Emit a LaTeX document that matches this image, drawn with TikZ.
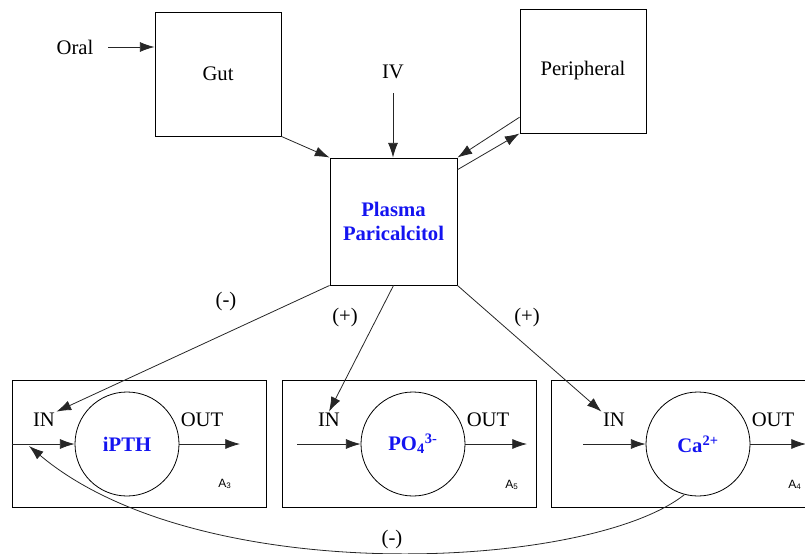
\documentclass[tikz,border=0pt]{standalone}
\usepackage{fontspec}
\setmainfont{Liberation Serif}
\newfontfamily\labelsans{Liberation Sans}
\usetikzlibrary{arrows.meta,calc}

\definecolor{poolblue}{RGB}{20,20,240}

\tikzset{
  every node/.style={font=\fontsize{15.5}{18}\selectfont, inner sep=1pt},
  box/.style={draw, line width=0.7pt, minimum width=94.5pt, minimum height=93pt},
  poolbox/.style={draw, line width=0.7pt, minimum width=190.5pt, minimum height=95.25pt},
  pool/.style={draw, circle, line width=0.6pt, minimum size=78pt, inner sep=0pt,
               text=poolblue, font=\fontsize{15.5}{18}\selectfont\bfseries},
  arr/.style={-{Latex[length=11pt,width=7.5pt]}, line width=0.6pt, draw=black!85},
  tag/.style={font=\labelsans\fontsize{9}{10}\selectfont},
}

\begin{document}
\begin{tikzpicture}[x=0.75pt, y=-0.75pt]
\useasboundingbox (0,0) rectangle (805,553);

% upper compartments
\node[box] (gut) at (218,74) {Gut};
\node[box] (per) at (583,71) {Peripheral};
\node[box, minimum width=95.25pt, minimum height=95.25pt,
      text=poolblue, font=\fontsize{15.5}{18}\selectfont\bfseries, align=center]
      (pl) at (393.5,221.5) {Plasma\\Paricalcitol};

% dosing routes
\node (oral) at (75,47) {Oral};
\coordinate (oralstart) at (108,47);
\draw[arr] (oralstart) -- (gut.west |- oralstart);
\node (iv) at (393,72) {IV};
\coordinate (ivstart) at (393,93);
\draw[arr] (ivstart) -- (ivstart |- pl.north);
\draw[arr] (gut.south east) -- (pl.north west);

% plasma <-> peripheral exchange
\draw[arr] ($(per.south west)!0.13!(per.north west)$) -- (pl.north east);
\draw[arr] ($(pl.north east)!0.095!(pl.south east)$) -- (per.south west);

% response compartments
\node[poolbox] (b1) at (139,444) {};
\node[poolbox] (b2) at (409,444) {};
\node[poolbox] (b3) at (678,444) {};

\node[pool] (c1) at (127,444) {iPTH};
\node[pool] (c2) at (413,444) {PO\textsubscript{4}\textsuperscript{3-}};
\node[pool] (c3) at (698,444) {Ca\textsuperscript{2+}};

\node (in1) at (44,420) {IN};
\node (in2) at (329,420) {IN};
\node (in3) at (614,420) {IN};
\node (out1) at (202,420) {OUT};
\node (out2) at (488,420) {OUT};
\node (out3) at (773,420) {OUT};
\node[tag] (a3) at (225,484) {A\textsubscript{3}};
\node[tag] (a5) at (512,485) {A\textsubscript{5}};
\node[tag] (a4) at (795,485) {A\textsubscript{4}};

% inflow / outflow of each pool
\coordinate (in2start) at (297,444);
\coordinate (in3start) at (583,444);
\coordinate (out1end) at (240,444);
\coordinate (out2end) at (527,444);
\coordinate (out3end) at (806,444);
\draw[arr] (b1.west |- c1) -- (c1.west);
\draw[arr] (in2start) -- (c2.west);
\draw[arr] (in3start) -- (c3.west);
\draw[arr] (c1.east) -- (out1end);
\draw[arr] (c2.east) -- (out2end);
\draw[arr] (c3.east) -- (out3end);

% drug effects
\draw[arr] (pl.south west) -- (in1.north east);
\draw[arr] (pl.south) -- (in2.north);
\draw[arr] (pl.south east) -- (in3.north west);
\node (e1) at (226,302) {(-)};
\node (e2) at (345,318) {(+)};
\node (e3) at (527,318) {(+)};

% calcium feedback on iPTH
\coordinate (fbend) at (29,446);
\draw[arr] (c3.-105) .. controls (590,570) and (200,590) .. (fbend);
\node (e4) at (392,540) {(-)};

\end{tikzpicture}
\end{document}
